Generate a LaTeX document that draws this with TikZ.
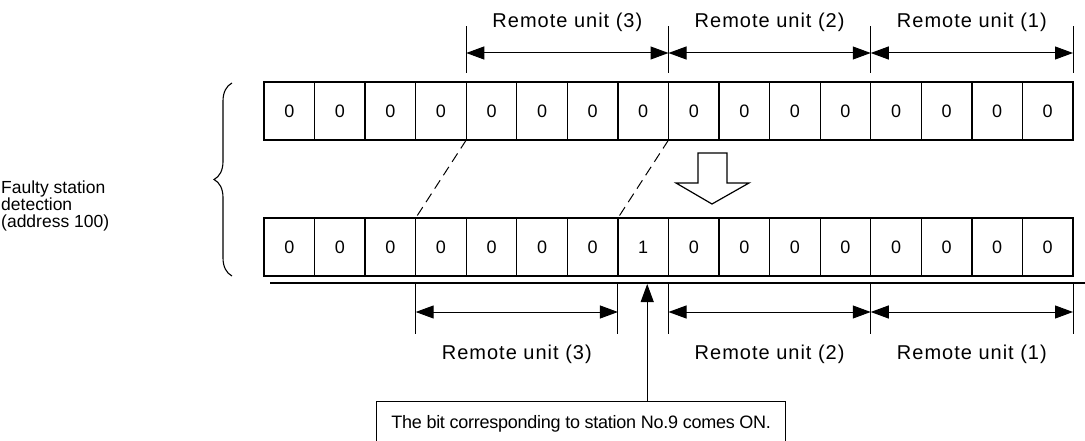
\documentclass[tikz,border=0pt]{standalone}
\usepackage{fontspec}
\setmainfont{Liberation Sans}
\newfontfamily\widefont[LetterSpace=5]{Liberation Sans}
\newfontfamily\tightfont[LetterSpace=-1.5]{Liberation Sans}
\usetikzlibrary{arrows.meta, positioning}
\usetikzlibrary{decorations.pathreplacing}

\begin{document}
\begin{tikzpicture}[x=1pt, y=-1pt, font=\fontsize{18}{18}\selectfont,
    cell/.style={draw, line width=1.3pt, minimum width=50.56pt, minimum height=58pt, inner sep=0pt, outer sep=0pt},
    span/.style={{Triangle[length=18pt,width=13pt]}-{Triangle[length=18pt,width=13pt]}, line width=1pt},
    unitedge/.style={line width=1pt},
    unitlabel/.style={font=\widefont\fontsize{20}{20}\selectfont}]
  \useasboundingbox (0,0) rectangle (1085,441);

  % register before and after
  \foreach \v [count=\i from 0] in {0,0,0,0,0,0,0,0,0,0,0,0,0,0,0,0}
    \node[cell] (t\i) at ({289.28+50.5625*\i}, 111) {\v};
  \foreach \v [count=\i from 0] in {0,0,0,0,0,0,0,1,0,0,0,0,0,0,0,0}
    \node[cell] (b\i) at ({289.28+50.5625*\i}, 247) {\v};

  \draw[decorate, decoration={brace, amplitude=18pt}, line width=1.1pt] (232,276) -- (232,83);
  \node[anchor=west, align=left, inner sep=0pt, font=\fontsize{17.5}{17}\selectfont] (name) at (1,206) {Faulty station\\detection\\(address 100)};

  % top units
  \foreach \c in {t4.north west, t8.north west, t12.north west, t15.north east}
    \draw[unitedge] ([yshift=9pt]\c) -- ++(0,-47);
  \draw[span] ([yshift=29pt]t4.north west) -- ([yshift=29pt]t8.north west) node[unitlabel, midway, above=18pt] {Remote unit (3)};
  \draw[span] ([yshift=29pt]t8.north west) -- ([yshift=29pt]t12.north west) node[unitlabel, midway, above=18pt] {Remote unit (2)};
  \draw[span] ([yshift=29pt]t12.north west) -- ([yshift=29pt]t15.north east) node[unitlabel, midway, above=18pt] {Remote unit (1)};

  % shift
  \draw[dashed, dash pattern=on 10pt off 6pt, line width=1pt] (t4.south west) -- (b3.north west);
  \draw[dashed, dash pattern=on 10pt off 6pt, line width=1pt] (t8.south west) -- (b7.north west);
  \draw[line width=1.2pt] (698,153) -- (727,153) -- (727,183) -- (749,183) -- (712,204) -- (676,183) -- (698,183) -- cycle;

  % bottom units
  \coordinate (rend) at (1085,283);
  \draw[line width=1.3pt] ([xshift=6pt,yshift=-7pt]b0.south west) -- (rend);
  \foreach \c in {b3.south west, b7.south west, b8.south west, b12.south west, b15.south east}
    \draw[unitedge] ([yshift=-7pt]\c) -- ++(0,51);
  \draw[span] ([yshift=-36pt]b3.south west) -- ([yshift=-36pt]b7.south west) node[unitlabel, midway, below=29pt] {Remote unit (3)};
  \draw[span] ([yshift=-36pt]b8.south west) -- ([yshift=-36pt]b12.south west) node[unitlabel, midway, below=29pt] {Remote unit (2)};
  \draw[span] ([yshift=-36pt]b12.south west) -- ([yshift=-36pt]b15.south east) node[unitlabel, midway, below=29pt] {Remote unit (1)};

  \node[draw, line width=1.3pt, anchor=north west, minimum width=409pt, minimum height=44pt, font=\tightfont\fontsize{18}{18}\selectfont] (note) at (376,401) {The bit corresponding to station No.9 comes ON.};
  \draw[-{Triangle[length=18pt,width=13pt]}, line width=1pt] ([xshift=4pt]note.north -| b7.center) -- ([xshift=4pt,yshift=-8pt]b7.south);
\end{tikzpicture}
\end{document}
